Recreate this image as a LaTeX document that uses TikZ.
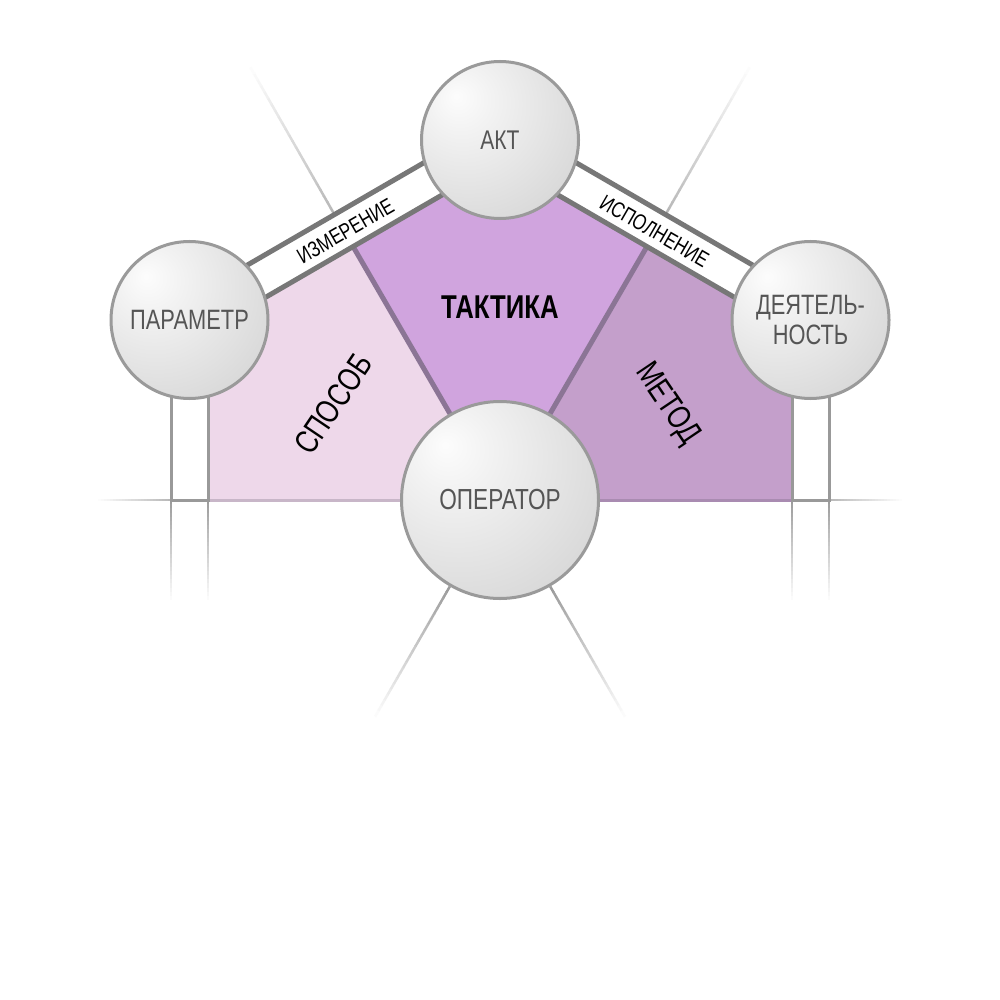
\documentclass[tikz,border=0pt]{standalone}
\usepackage{fontspec}
\setmainfont[FakeStretch=0.78]{Liberation Sans}
\usetikzlibrary{calc}
\definecolor{fillL}{HTML}{EED8EA}
\definecolor{fillM}{HTML}{D0A4DE}
\definecolor{fillR}{HTML}{C49FCB}
\definecolor{edgeL}{HTML}{C8B6C8}
\definecolor{edgeR}{HTML}{A98BB1}
\definecolor{bandgray}{HTML}{777777}
\definecolor{vgray}{HTML}{999999}
\definecolor{divpurple}{HTML}{8B7595}
\definecolor{circedge}{HTML}{9A9A9A}
\definecolor{circtext}{HTML}{555555}
\definecolor{lightln}{HTML}{B8B8B8}
\definecolor{midln}{HTML}{9C9C9C}
\pgfdeclareradialshading{sphere}{\pgfpoint{-14bp}{14bp}}{%
  color(0bp)=(white!99!black); color(10bp)=(white!95!black);
  color(35bp)=(white!86!black); color(60bp)=(white!77!black);
  color(100bp)=(white!72!black)}
\newcommand{\fadeline}[4]{%
  \foreach \k in {0,...,23}{%
    \pgfmathsetmacro{\fa}{\k/24}%
    \pgfmathsetmacro{\fb}{(\k+1.1)/24}%
    \pgfmathtruncatemacro{\fc}{100*(1-\k/24)}%
    \draw[line width=#4, color=#3!\fc!white] ($(#1)!\fa!(#2)$) -- ($(#1)!\fb!(#2)$);
  }}
\tikzset{
  ball/.style={circle, draw=circedge, line width=3pt, shade, shading=sphere,
    text=circtext, align=center, inner sep=0pt},
  bandline/.style={draw=bandgray, line width=5pt},
  vband/.style={draw=vgray, line width=3pt},
  divline/.style={draw=divpurple, line width=5pt},
  bandlabel/.style={font=\fontsize{22}{24}\selectfont, text=black, inner sep=0pt},
  fieldlabel/.style={font=\fontsize{33}{36}\selectfont, text=black, inner sep=0pt}
}
\begin{document}
\begin{tikzpicture}[x=1pt,y=-1pt]
\useasboundingbox (0,0) rectangle (1000,1000);
\fill[white] (0,0) rectangle (1000,1000);
% key points
\coordinate (cA) at (500,140);
\coordinate (cP) at (189.5,320);
\coordinate (cD) at (810.5,320);
\coordinate (cO) at (500,500);
\coordinate (lI) at (353.1,246.6);
\coordinate (rI) at (646.9,246.6);
\coordinate (topI) at (500,161.4);
\coordinate (topO) at (500,118.6);
\coordinate (lV) at (208,330.65);
\coordinate (rV) at (792,330.65);
\coordinate (lB) at (208,500);
\coordinate (rB) at (792,500);
\coordinate (lBo) at (171,500);
\coordinate (rBo) at (829,500);
\coordinate (apo) at (189.5,298.6);
\coordinate (api) at (189.5,341.4);
\coordinate (ado) at (810.5,298.6);
\coordinate (adi) at (810.5,341.4);
\coordinate (lO) at (334.5,214.6);
\coordinate (lT) at (250.8,68);
\coordinate (rO) at (665.5,214.6);
\coordinate (rT) at (749.2,68);
\coordinate (bl1) at (449.8,586.5);
\coordinate (bl2) at (375.4,716);
\coordinate (br1) at (550.2,586.5);
\coordinate (br2) at (624.6,716);
\coordinate (lvo1) at (171,320);
\coordinate (lvi1) at (208,330);
\coordinate (rvo1) at (829,320);
\coordinate (rvi1) at (792,330);
\coordinate (lvoE) at (171,600);
\coordinate (lviE) at (208,600);
\coordinate (rvoE) at (829,600);
\coordinate (rviE) at (792,600);
\coordinate (lH) at (98,500);
\coordinate (rH) at (902,500);
% fills
\fill[fillL] (lB) -- (lV) -- (lI) -- (cO) -- cycle;
\fill[fillM] (lI) -- (topI) -- (rI) -- (cO) -- cycle;
\fill[fillR] (rI) -- (rV) -- (rB) -- (cO) -- cycle;
\draw[edgeL, line width=3pt] (lB) -- (cO);
\draw[edgeR, line width=3pt] (cO) -- (rB);
% faded light lines
\fadeline{lO}{lT}{lightln}{2.5}
\fadeline{rO}{rT}{lightln}{2.5}
\fadeline{bl1}{bl2}{midln}{2.5}
\fadeline{br1}{br2}{midln}{2.5}
\fadeline{lBo}{lvoE}{midln}{2}
\fadeline{lB}{lviE}{midln}{2}
\fadeline{rBo}{rvoE}{midln}{2}
\fadeline{rB}{rviE}{midln}{2}
\fadeline{lBo}{lH}{lightln}{2}
\fadeline{rBo}{rH}{lightln}{2}
% dividers
\draw[divline] (lI) -- (cO);
\draw[divline] (rI) -- (cO);
% bands
\draw[bandline] (apo) -- (topO);
\draw[bandline] (api) -- (topI);
\draw[bandline] (ado) -- (topO);
\draw[bandline] (adi) -- (topI);
\draw[vband] (lvo1) -- (lBo) -- (lB) -- (lvi1);
\draw[vband] (rvo1) -- (rBo) -- (rB) -- (rvi1);
% circles
\node[ball, minimum size=157pt, font=\fontsize{27}{30}\selectfont] (akt) at (cA) {АКТ};
\node[ball, minimum size=157pt, font=\fontsize{28}{31}\selectfont] (par) at (cP) {ПАРАМЕТР};
\node[ball, minimum size=157pt, font=\fontsize{28}{30}\selectfont] (dey) at (cD) {ДЕЯТЕЛЬ-\\НОСТЬ};
\node[ball, minimum size=197pt, font=\fontsize{29}{32}\selectfont] (op) at (cO) {ОПЕРАТОР};
% labels
\node[bandlabel, rotate=30] (izm) at (345.5,231) {ИЗМЕРЕНИЕ};
\node[bandlabel, rotate=-30] (isp) at (654.5,231) {ИСПОЛНЕНИЕ};
\node[font=\fontsize{33}{36}\selectfont\bfseries, text=black] (takt) at (500,307) {ТАКТИКА};
\node[fieldlabel, rotate=56] (spos) at (333,404) {СПОСОБ};
\node[fieldlabel, rotate=-56] (met) at (667,404) {МЕТОД};
\end{tikzpicture}
\end{document}
